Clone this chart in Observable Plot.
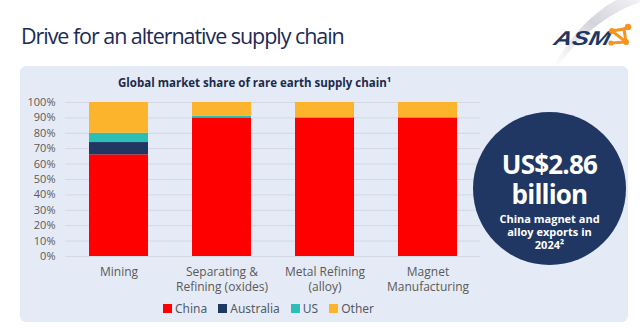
<!DOCTYPE html>
<html>
<head>
<meta charset="utf-8">
<script src="https://cdn.jsdelivr.net/npm/d3@7"></script>
<script src="https://cdn.jsdelivr.net/npm/@observablehq/plot@0.6"></script>
<style>
  html, body { margin: 0; padding: 0; background: #ffffff; }
  body { width: 640px; height: 330px; position: relative; overflow: hidden; font-family: "Open Sans", "Noto Sans", sans-serif; }
  #title { position: absolute; left: 21px; top: 23px; font-size: 21.5px; color: #1b2a55; letter-spacing: -1.05px; white-space: nowrap; line-height: 26px; }
  #panel { position: absolute; left: 20px; top: 66px; width: 608px; height: 256px; background: #e5ebf6; border-radius: 6px; }
  #chartTitle { position: absolute; left: 118px; top: 75px; font-size: 11.5px; line-height: 15px; font-weight: 700; color: #1b2a4a; white-space: nowrap; }
  #chart { position: absolute; left: 0px; top: 66px; }
  #legend { position: absolute; left: 163px; top: 292px; }
  .lg-swatch { margin-right: 11px !important; font-size: 12px; color: #555a66; }
  .lg-swatch > svg { margin-right: 3px !important; }
  #circle { position: absolute; left: 473px; top: 112px; width: 153px; height: 153px; border-radius: 50%; background: #203764; color: #fff; text-align: center; }
  .ln { position: absolute; left: 0; width: 153px; white-space: nowrap; font-weight: 700; }
  .bg { font-size: 26px; line-height: 28px; letter-spacing: -0.8px; }
  .sm { font-size: 11px; line-height: 12px; }
  #logo { position: absolute; left: 520px; top: 0px; }
</style>
</head>
<body>
<div id="title">Drive for an alternative supply chain</div>
<svg id="logo" width="120" height="66">
  <defs>
    <linearGradient id="sw" x1="0" y1="1" x2="1" y2="0">
      <stop offset="0" stop-color="#ffffff"/>
      <stop offset="0.55" stop-color="#d4d5dc"/>
      <stop offset="1" stop-color="#f2f2f5"/>
    </linearGradient>
  </defs>
  <path d="M34,66 C48,40 68,16 96,0 L120,0 L120,2 C86,14 58,38 38,66 Z" fill="url(#sw)"/>
  <text x="34" y="45" font-family="Liberation Sans, Arial, sans-serif" font-size="20" font-weight="700" font-style="italic" fill="#1f3764" transform="skewX(-14) translate(10,0)" textLength="56" lengthAdjust="spacingAndGlyphs">ASM</text>
  <g stroke="#f7941d" stroke-width="3" fill="none">
    <path d="M92,31 L106,42 L104,29 Z"/>
    <path d="M104,29 L108,27"/>
    <path d="M106,42 L91,43"/>
  </g>
  <g fill="#f7941d">
    <circle cx="108" cy="27" r="3.2"/>
    <circle cx="92" cy="31" r="3"/>
    <circle cx="106" cy="42" r="3"/>
    <circle cx="91" cy="43" r="2.6"/>
  </g>
</svg>
<div id="panel"></div>
<div id="chartTitle">Global market share of rare earth supply chain¹</div>
<div id="chart"></div>
<div id="legend"></div>
<div id="circle">
  <div class="ln bg" style="top:38px">US$2.86</div>
  <div class="ln bg" style="top:68px">billion</div>
  <div class="ln sm" style="top:101px">China magnet and</div>
  <div class="ln sm" style="top:114px">alloy exports in</div>
  <div class="ln sm" style="top:127px">2024²</div>
</div>
<script>
const stages = ["Mining", "Separating &\nRefining (oxides)", "Metal Refining\n(alloy)", "Magnet\nManufacturing"];
const series = ["China", "Australia", "US", "Other"];
const colors = ["#ff0000", "#203764", "#2cbfb6", "#fbb42b"];
const china     = [0.66, 0.90, 0.90, 0.90];
const australia = [0.08, 0.00, 0.00, 0.00];
const us        = [0.06, 0.01, 0.00, 0.00];
const other     = [0.20, 0.09, 0.10, 0.10];
const yTicks = [0, 0.1, 0.2, 0.3, 0.4, 0.5, 0.6, 0.7, 0.8, 0.9, 1.0];

const valuesBySeries = [china, australia, us, other];
const data = [];
series.forEach((s, si) => stages.forEach((st, i) => data.push({stage: st, series: s, value: valuesBySeries[si][i]})));

const plot = Plot.plot({
  width: 500,
  height: 235,
  marginLeft: 65,
  marginRight: 20,
  marginTop: 36,
  marginBottom: 45,
  style: { background: "transparent", fontFamily: "Open Sans, sans-serif", color: "#595959" },
  x: { domain: stages, paddingInner: 0.43, paddingOuter: 0.215, label: null },
  y: { domain: [0, 1], label: null },
  color: { domain: series, range: colors },
  marks: [
    Plot.gridY(yTicks, { stroke: "#d3d8e2", strokeOpacity: 1, strokeWidth: 1 }),
    Plot.barY(data, Plot.stackY({ order: series }, { x: "stage", y: "value", fill: "series" })),
    Plot.axisY(yTicks, { tickSize: 0, tickPadding: 10, tickFormat: d => Math.round(d * 100) + "%", fontSize: 11, fill: "#595959" }),
    Plot.axisX({ tickSize: 0, tickPadding: 9, fontSize: 12, lineHeight: 1.25, fill: "#595959" })
  ]
});
document.getElementById("chart").appendChild(plot);

const lg = plot.legend("color", { legend: "swatches", swatchSize: 9, className: "lg" });
document.getElementById("legend").appendChild(lg);
</script>
</body>
</html>
